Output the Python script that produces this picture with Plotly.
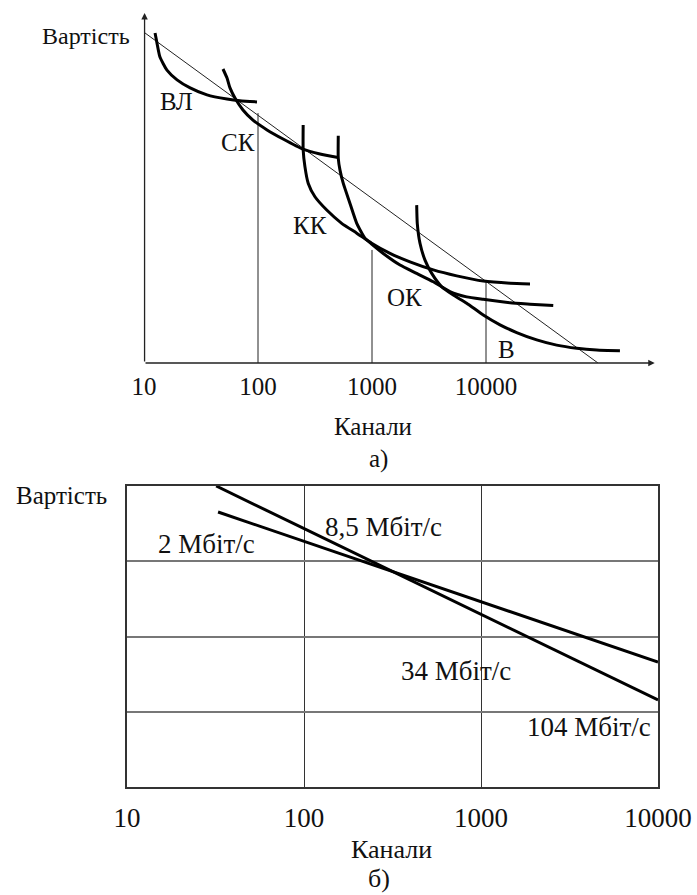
import plotly.graph_objects as go
import math

W, H = 697, 895
FONT = "Liberation Serif, Times New Roman, DejaVu Serif, serif"

# ---------------- (a) data ----------------
a_ticks = [10, 100, 1000, 10000]
a_tick_text = ["10", "100", "1000", "10000"]

trend_x = [10.2, 96000]
trend_y = [94.3, 0.0]

vline_x = [100, 1000, 10000]
vline_top = [71.4, 32.3, 23.1]

vl_x = [12.5, 13.0, 13.8, 15.9, 19.5, 25.4, 35.7, 53.5, 69.5, 98]
vl_y = [94.3, 91.4, 87.4, 83.7, 80.9, 78.6, 76.6, 75.4, 74.9, 74.6]

sk_x = [49.3, 53.5, 56.8, 62.8, 73.8, 90.3, 120, 166, 248, 350, 504]
sk_y = [84.0, 81.4, 78.6, 75.7, 72.3, 69.4, 66.6, 64.0, 61.1, 59.7, 58.7]

kk_x = [249, 249, 258, 276, 316, 401, 542, 735, 993, 1439, 2153, 3451, 5534, 9462, 16250, 24320]
kk_y = [68.0, 60.9, 56.1, 51.3, 47.5, 43.7, 39.9, 37.1, 34.2, 31.3, 28.9, 26.6, 24.9, 23.4, 22.8, 22.6]

c4_x = [506, 506, 524, 560, 641, 735, 869, 993, 1256, 1762, 2466, 3451, 4831, 6770, 9462, 16250, 24320, 38900]
c4_y = [64.9, 58.5, 55.1, 51.3, 45.6, 39.9, 35.6, 34.0, 31.3, 28.0, 25.6, 23.2, 20.4, 18.9, 18.2, 17.2, 16.8, 16.4]

ok_x = [2466, 2495, 2636, 2917, 3342, 4083, 5164, 6770, 9462, 13270, 18580, 27860, 41690, 62520, 93540, 149600]
ok_y = [45.1, 39.9, 34.2, 29.4, 25.6, 21.8, 19.4, 17.1, 13.7, 10.9, 8.7, 6.6, 5.1, 4.2, 3.7, 3.5]

a_labels = ["ВЛ", "СК", "КК", "ОК", "В"]
a_label_x = [19.1, 66.8, 286, 1945, 15280]
a_label_y = [74.6, 62.9, 39.4, 18.6, 4.0]

# ---------------- (б) data ----------------
b_ticks = [10, 100, 1000, 10000]
b_tick_text = ["10", "100", "1000", "10000"]

line85_x = [31.9, 10000]
line85_y = [4.0, 1.156]
line2_x = [32.7, 10000]
line2_y = [3.654, 1.661]

b_labels = ["8,5 Мбіт/с", "2 Мбіт/с", "34 Мбіт/с", "104 Мбіт/с"]
b_label_x = [283, 28.3, 723, 4074]
b_label_y = [3.455, 3.229, 1.541, 0.797]

fig = go.Figure()

thin = dict(color="#222", width=1)
thick = dict(color="black", width=3, shape="spline", smoothing=0.5)

fig.add_trace(go.Scatter(x=trend_x, y=trend_y, mode="lines", line=thin, xaxis="x", yaxis="y"))
for vx, vt in zip(vline_x, vline_top):
    fig.add_trace(go.Scatter(x=[vx, vx], y=[0, vt], mode="lines", line=thin, xaxis="x", yaxis="y"))
for cx, cy in [(vl_x, vl_y), (sk_x, sk_y), (kk_x, kk_y), (c4_x, c4_y), (ok_x, ok_y)]:
    fig.add_trace(go.Scatter(x=cx, y=cy, mode="lines", line=thick, xaxis="x", yaxis="y"))

fig.add_trace(go.Scatter(x=line85_x, y=line85_y, mode="lines", line=dict(color="black", width=3), xaxis="x2", yaxis="y2"))
fig.add_trace(go.Scatter(x=line2_x, y=line2_y, mode="lines", line=dict(color="black", width=3), xaxis="x2", yaxis="y2"))

ann = []
for t, x, y in zip(a_labels, a_label_x, a_label_y):
    ann.append(dict(text=t, x=math.log10(x), y=y, xref="x", yref="y", showarrow=False,
                    font=dict(family=FONT, size=25, color="#111")))
for t, x, y in zip(b_labels, b_label_x, b_label_y):
    ann.append(dict(text=t, x=math.log10(x), y=y, xref="x2", yref="y2", showarrow=False,
                    font=dict(family=FONT, size=27, color="#111")))

# axis arrows for (a)
ann.append(dict(x=5.48, y=0, xref="x", yref="y", ax=1.0, ay=0, axref="x", ayref="y",
                showarrow=True, arrowhead=2, arrowsize=1, arrowwidth=1.3, arrowcolor="#222", text=""))
ann.append(dict(x=1.005, y=100, xref="x", yref="y", ax=1.005, ay=0, axref="x", ayref="y",
                showarrow=True, arrowhead=2, arrowsize=1, arrowwidth=1.3, arrowcolor="#222", text=""))

def pp(px, py):
    return px / W, 1 - py / H

for text, px, py, size in [("Вартість", 86, 36, 24), ("Канали", 373, 426, 25), ("а)", 378, 459, 25),
                           ("Вартість", 61, 495, 25), ("Канали", 391, 849, 26), ("б)", 379, 878, 26)]:
    x, y = pp(px, py)
    ann.append(dict(text=text, x=x, y=y, xref="paper", yref="paper", showarrow=False,
                    xanchor="center", yanchor="middle", font=dict(family=FONT, size=size, color="#111")))

fig.update_layout(
    template="none",
    width=W, height=H, margin=dict(l=0, r=0, t=0, b=0, pad=0, autoexpand=False),
    paper_bgcolor="white", plot_bgcolor="white", showlegend=False,
    annotations=ann,
    xaxis=dict(type="log", domain=[144 / W, 660 / W], range=[1, 1 + (660 - 144) / 114],
               tickvals=a_ticks, ticktext=a_tick_text, showgrid=False, zeroline=False, showline=False,
               ticks="outside", ticklen=1, tickcolor="rgba(0,0,0,0)", automargin=False,
               tickfont=dict(family=FONT, size=25, color="#111"), anchor="y"),
    yaxis=dict(domain=[1 - 363 / H, 1 - 10 / H], range=[0, (363 - 10) / 3.5], showgrid=False,
               zeroline=False, showline=False, showticklabels=False, ticks="", automargin=False, anchor="x"),
    xaxis2=dict(type="log", domain=[127 / W, 658 / W], range=[1, 4],
                tickvals=b_ticks, ticktext=b_tick_text, showgrid=True, gridcolor="#333", gridwidth=1.3,
                zeroline=False, showline=True, linecolor="#333", linewidth=1.5, mirror=True,
                ticks="outside", ticklen=6, tickcolor="rgba(0,0,0,0)", automargin=False,
                tickfont=dict(family=FONT, size=27, color="#111"), anchor="y2"),
    yaxis2=dict(domain=[1 - 787 / H, 1 - 486 / H], range=[0, 4], dtick=1, showgrid=True,
                gridcolor="#777", gridwidth=2, zeroline=False, showline=True, linecolor="#333",
                linewidth=1.5, mirror=True, showticklabels=False, ticks="", automargin=False, anchor="x2"),
)

fig.write_html("out.html", config={"displayModeBar": False},
               post_script="document.body.style.margin='0';document.body.style.overflow='hidden';")
